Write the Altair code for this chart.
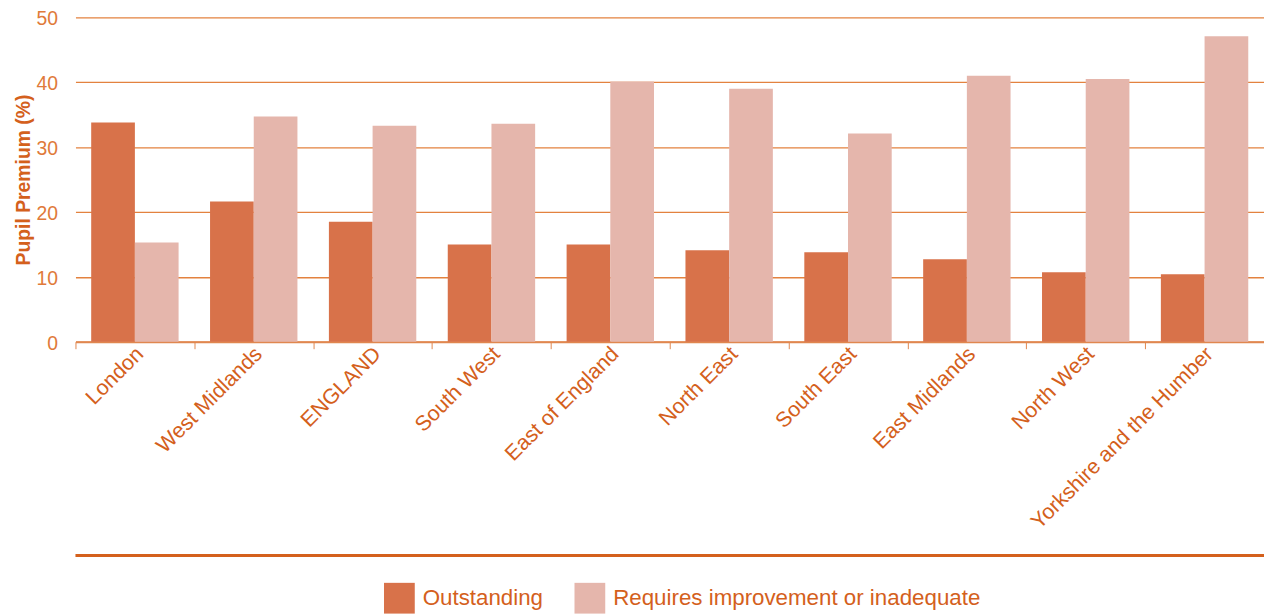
import altair as alt
import pandas as pd

regions = ["London", "West Midlands", "ENGLAND", "South West", "East of England",
           "North East", "South East", "East Midlands", "North West",
           "Yorkshire and the Humber"]
outstanding = [33.8, 21.6, 18.5, 15.0, 15.0, 14.1, 13.8, 12.7, 10.7, 10.4]
requires = [15.3, 34.7, 33.3, 33.6, 40.1, 39.0, 32.1, 41.0, 40.5, 47.1]
series = ["Outstanding", "Requires improvement or inadequate"]
colors = ["#d8724a", "#e5b6ac"]

rows = []
for r, o, q in zip(regions, outstanding, requires):
    rows.append({"region": r, "series": series[0], "value": o})
    rows.append({"region": r, "series": series[1], "value": q})
df = pd.DataFrame(rows)

TXT = "#d4601c"
W, H = 1198, 327

bars = alt.Chart(df).mark_bar().encode(
    x=alt.X("region:N", sort=regions, title=None,
            scale=alt.Scale(paddingInner=0, paddingOuter=0),
            axis=alt.Axis(labelAngle=-45, labelAlign="right", labelBaseline="middle",
                          labelFontSize=21.5, labelColor=TXT, labelFont="Liberation Sans",
                          tickBand="extent", tickSize=7, tickColor="#e0874f",
                          domainColor="#e0874f", domainWidth=2, labelPadding=2,
                          labelOffset=5, grid=False, labelOverlap=False, labelLimit=0)),
    xOffset=alt.XOffset("series:N", sort=series,
                        scale=alt.Scale(paddingOuter=0.36, paddingInner=0)),
    y=alt.Y("value:Q", title="Pupil Premium (%)",
            scale=alt.Scale(domain=[0, 50]),
            axis=alt.Axis(values=[0, 10, 20, 30, 40, 50], tickSize=0, labelPadding=18,
                          labelFontSize=19.5, labelColor="#e07a3a", labelFont="Liberation Sans",
                          labelOffset=1.5,
                          gridColor="#e3823f", gridWidth=1.3, domain=False,
                          titleFontSize=19.5, titleColor=TXT, titleFont="Liberation Sans",
                          titleFontWeight="bold", titlePadding=3)),
    color=alt.Color("series:N", sort=series,
                    scale=alt.Scale(domain=series, range=colors),
                    legend=alt.Legend(title=None, orient="none", direction="horizontal",
                                      legendX=311, legendY=570, symbolType="square",
                                      symbolSize=961, symbolStrokeWidth=0,
                                      labelFontSize=22.5, labelColor=TXT,
                                      labelFont="Liberation Sans", columnPadding=31,
                                      labelOffset=8, symbolOpacity=1, labelLimit=0)),
)

rule = alt.Chart(pd.DataFrame({"a": [0]})).mark_rule(
    color="#d4601c", strokeWidth=3, clip=False
).encode(x=alt.value(0), x2=alt.value(W), y=alt.value(542.5))

chart = alt.layer(bars, rule).properties(
    width=W, height=H, autosize="none", background="white",
    padding={"left": 68, "top": 7, "right": 0, "bottom": 272},
).configure_view(stroke=None)

chart.save("out.html", embed_options={"renderer": "svg", "actions": False})
